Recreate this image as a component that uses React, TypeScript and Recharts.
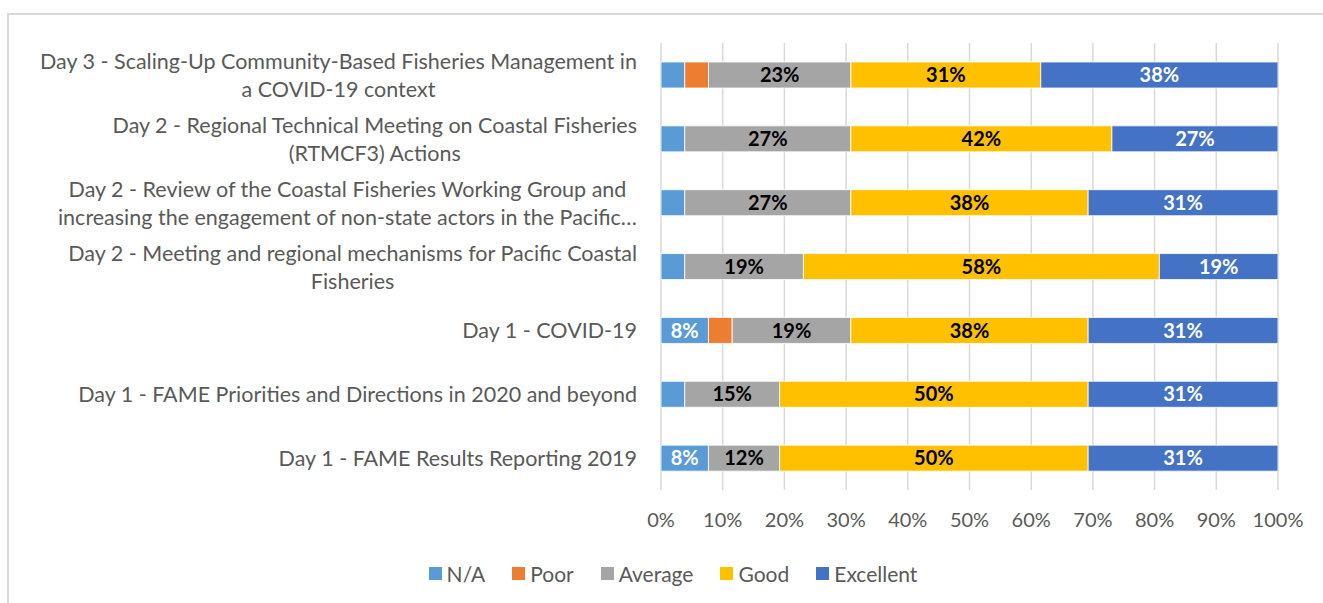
import {
  BarChart, Bar, XAxis, YAxis, CartesianGrid, Legend, LabelList,
} from "recharts";

// categories top → bottom, "\n" marks the wrapped line break
const CATEGORIES = [
  "Day 3 - Scaling-Up Community-Based Fisheries Management in\na COVID-19 context",
  "Day 2 - Regional Technical Meeting on Coastal Fisheries\n(RTMCF3) Actions",
  "Day 2 - Review of the Coastal Fisheries Working Group and\nincreasing the engagement of non-state actors in the Pacific…",
  "Day 2 - Meeting and regional mechanisms for Pacific Coastal\nFisheries",
  "Day 1 - COVID-19",
  "Day 1 - FAME Priorities and Directions in 2020 and beyond",
  "Day 1 - FAME Results Reporting 2019",
];

// shares in %
const NA        = [3.85, 3.85, 3.85, 3.85, 7.69, 3.85, 7.69];
const POOR      = [3.85, 0, 0, 0, 3.85, 0, 0];
const AVERAGE   = [23.08, 26.92, 26.92, 19.23, 19.23, 15.38, 11.54];
const GOOD      = [30.77, 42.31, 38.46, 57.69, 38.46, 50, 50];
const EXCELLENT = [38.46, 26.92, 30.77, 19.23, 30.77, 30.77, 30.77];

const X_TICKS = [0, 10, 20, 30, 40, 50, 60, 70, 80, 90, 100];

const SERIES = [
  { key: "N/A", values: NA, color: "#5B9BD5", label: "#ffffff" },
  { key: "Poor", values: POOR, color: "#ED7D31", label: "#ffffff" },
  { key: "Average", values: AVERAGE, color: "#A5A5A5", label: "#000000" },
  { key: "Good", values: GOOD, color: "#FFC000", label: "#000000" },
  { key: "Excellent", values: EXCELLENT, color: "#4472C4", label: "#ffffff" },
];

const data = CATEGORIES.map((name, i) => {
  const row: Record<string, string | number> = { name };
  SERIES.forEach((s) => { row[s.key] = s.values[i]; });
  return row;
});

const FONT = "Lato, 'Open Sans', sans-serif";
const TEXT = "#595959";

function CategoryTick({ x, y, payload }: any) {
  const lines = String(payload.value).split("\n");
  return (
    <foreignObject x={0} y={y - 40} width={x} height={80}>
      <div
        style={{
          height: 80, display: "flex", alignItems: "center", justifyContent: "flex-end",
          fontFamily: FONT, fontSize: 21.5, color: TEXT, lineHeight: "28px",
        }}
      >
        <div style={{ textAlign: "center", whiteSpace: "nowrap" }}>
          {lines.map((l, i) => <div key={i}>{l}</div>)}
        </div>
      </div>
    </foreignObject>
  );
}

function LegendContent() {
  return (
    <div style={{ display: "flex", justifyContent: "center", paddingLeft: 50, fontFamily: FONT, fontSize: 21, color: TEXT }}>
      {SERIES.map((s) => (
        <div key={s.key} style={{ display: "flex", alignItems: "center", marginRight: 27 }}>
          <span style={{ width: 13, height: 13, background: s.color, display: "inline-block", marginRight: 5 }} />
          <span>{s.key}</span>
        </div>
      ))}
    </div>
  );
}

export default function App() {
  return (
    <div style={{ position: "absolute", left: 0, top: 0, width: 1323, height: 603, background: "#fff", overflow: "hidden" }}>
      {/* chart frame */}
      <div style={{ position: "absolute", left: 7, top: 13, width: 1400, height: 700, border: "2px solid #D9D9D9" }} />
      <BarChart
        width={1323}
        height={603}
        data={data}
        layout="vertical"
        margin={{ top: 43, right: 45, bottom: 48, left: 0 }}
        barSize={26}
        style={{ position: "absolute", left: 0, top: 0 }}
      >
        <CartesianGrid horizontal={false} stroke="#D9D9D9" strokeWidth={1.5} />
        <XAxis
          type="number"
          domain={[0, 100]}
          ticks={X_TICKS}
          allowDataOverflow
          axisLine={false}
          tickLine={false}
          tickSize={0}
          tickMargin={23}
          height={40}
          tickFormatter={(v) => `${v}%`}
          tick={{ fontFamily: FONT, fontSize: 20, fill: TEXT }}
        />
        <YAxis
          type="category"
          dataKey="name"
          width={661}
          axisLine={false}
          tickLine={false}
          tickSize={0}
          tickMargin={24}
          tick={<CategoryTick />}
          interval={0}
        />
        <Legend
          verticalAlign="bottom"
          content={<LegendContent />}
          wrapperStyle={{ position: "absolute", left: 0, top: 561, width: 1323 }}
        />
        {SERIES.map((s) => (
          <Bar key={s.key} dataKey={s.key} stackId="a" fill={s.color} stroke="#ffffff" strokeWidth={0.8} isAnimationActive={false}>
            <LabelList
              dataKey={s.key}
              position="center"
              fill={s.label}
              style={{ fontFamily: FONT, fontSize: 20, fontWeight: 700 }}
              formatter={(v: any) => (Number(v) >= 6 ? `${Math.round(Number(v))}%` : "")}
            />
          </Bar>
        ))}
      </BarChart>
    </div>
  );
}
